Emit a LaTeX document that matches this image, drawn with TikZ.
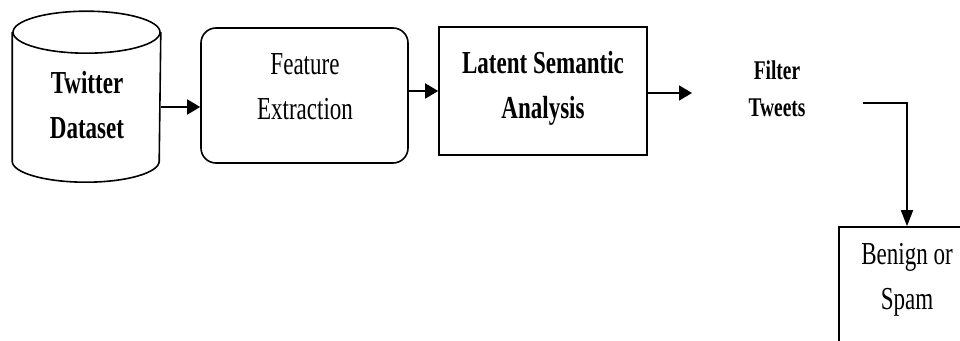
\documentclass[tikz,border=0pt]{standalone}
\usepackage{fontspec}
\setmainfont{Liberation Serif}[FakeStretch=0.72]
\usetikzlibrary{arrows.meta,calc}
\begin{document}
\begin{tikzpicture}[x=1pt,y=1pt,
  line width=1.6pt,
  harr/.style={-{Triangle[length=13pt,width=15pt]}},
  varr/.style={-{Triangle[length=16pt,width=12pt]}},
  lbl/.style={align=center, inner sep=0pt, font=\fontsize{32}{45}\selectfont},
  blbl/.style={align=center, inner sep=0pt, font=\fontsize{32}{45}\selectfont\bfseries},
  sbox/.style={draw, inner sep=0pt}
]
\clip (0,0) rectangle (960,340);
% cylinder
\node[minimum width=147pt, minimum height=148pt, inner sep=0pt] (db) at (86.5,233) {};
\draw (db.north west) -- ++(0,-129) arc[start angle=180,end angle=360,x radius=73.5,y radius=21] -- (db.north east);
\draw (db.north) ellipse[x radius=73.5, y radius=21];
\node[blbl] (dbt) at (87,235) {Twitter\\Dataset};
% feature extraction
\node[sbox, rounded corners=15pt, minimum width=207pt, minimum height=135pt] (fe) at (304.5,244.5) {};
\node[lbl] (fet) at (305,253) {Feature\\Extraction};
% LSA
\node[sbox, minimum width=208pt, minimum height=128pt] (lsa) at (543,249) {};
\node[blbl] (lsat) at (543,252) {Latent Semantic\\Analysis};
% filter tweets
\node[blbl, font=\fontsize{27}{37}\selectfont\bfseries] (ft) at (777,251) {Filter\\Tweets};
% benign or spam
\node[sbox, minimum width=136pt, minimum height=150pt] (bs) at (907,38) {};
\node[lbl] (bst) at (907,60.5) {Benign or\\Spam};
% connectors
\draw[harr] (db.east) -- (db.east -| fe.west);
\draw[harr] (fe.east |- lsa.west) -- (lsa.west);
\coordinate (a3) at (692,247);
\draw[harr] (lsa.east |- a3) -- (a3);
\coordinate (e1) at (863,237);
\draw[varr] (e1) -| (bs.north);
\end{tikzpicture}
\end{document}
